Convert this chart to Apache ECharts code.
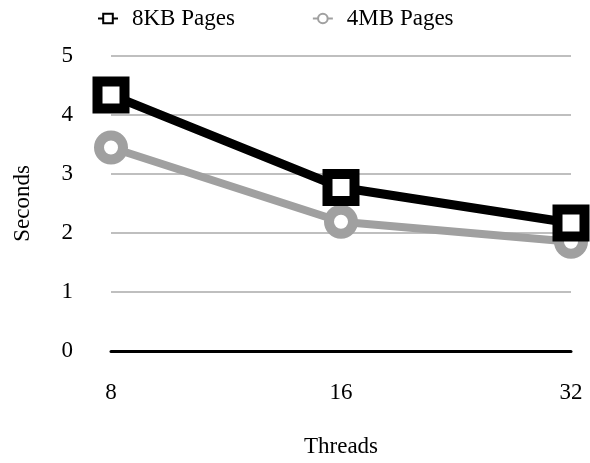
<!DOCTYPE html>
<html>
<head>
<meta charset="utf-8">
<script src="https://cdn.jsdelivr.net/npm/echarts@6/dist/echarts.min.js"></script>
<style>
  html, body { margin: 0; padding: 0; background: #fff; }
  #chart { width: 590px; height: 463px; }
</style>
</head>
<body>
<div id="chart"></div>
<script>
// Run time vs. thread count for two page sizes
const threads = ['8', '16', '32'];
const pages8KB = [4.34, 2.77, 2.17];
const pages4MB = [3.45, 2.19, 1.85];
const yTicks = { min: 0, max: 5, interval: 1 };

const font = '"Liberation Serif", "Times New Roman", serif';
const black = '#000000';
const gray = '#a0a0a0';

const chart = echarts.init(document.getElementById('chart'), null, { renderer: 'canvas' });
chart.setOption({
  animation: false,
  backgroundColor: '#ffffff',
  textStyle: { fontFamily: font },
  legend: {
    top: 2,
    left: 92,
    itemGap: 77,
    itemWidth: 20,
    itemHeight: 12,
    textStyle: { fontFamily: font, fontSize: 23, color: '#000', padding: [0, 0, 0, 9] },
    data: ['8KB Pages', '4MB Pages']
  },
  grid: { left: 111, right: 19, top: 56, bottom: 105, containLabel: false },
  xAxis: {
    type: 'category',
    data: threads,
    boundaryGap: false,
    name: 'Threads',
    nameLocation: 'middle',
    nameGap: 84,
    nameTextStyle: { fontFamily: font, fontSize: 23, color: '#000' },
    axisLine: { lineStyle: { color: '#000', width: 3 } },
    axisTick: { show: false },
    axisLabel: { margin: 30, fontFamily: font, fontSize: 23, color: '#000' },
    splitLine: { show: false }
  },
  yAxis: {
    type: 'value',
    min: yTicks.min,
    max: yTicks.max,
    interval: yTicks.interval,
    name: 'Seconds',
    nameLocation: 'middle',
    nameGap: 77,
    nameTextStyle: { fontFamily: font, fontSize: 23, color: '#000' },
    axisLine: { show: false },
    axisTick: { show: false },
    axisLabel: { margin: 38, fontFamily: font, fontSize: 23, color: '#000' },
    splitLine: { lineStyle: { color: '#bfbfbf', width: 2 } }
  },
  series: [
    {
      name: '8KB Pages',
      type: 'line',
      data: pages8KB,
      z: 3,
      symbol: 'rect',
      symbolSize: 27,
      lineStyle: { color: black, width: 9 },
      itemStyle: { color: '#ffffff', borderColor: black, borderWidth: 10 }
    },
    {
      name: '4MB Pages',
      type: 'line',
      data: pages4MB,
      z: 2,
      symbol: 'circle',
      symbolSize: 24,
      lineStyle: { color: gray, width: 8 },
      itemStyle: { color: '#ffffff', borderColor: gray, borderWidth: 10 }
    }
  ]
});
</script>
</body>
</html>
